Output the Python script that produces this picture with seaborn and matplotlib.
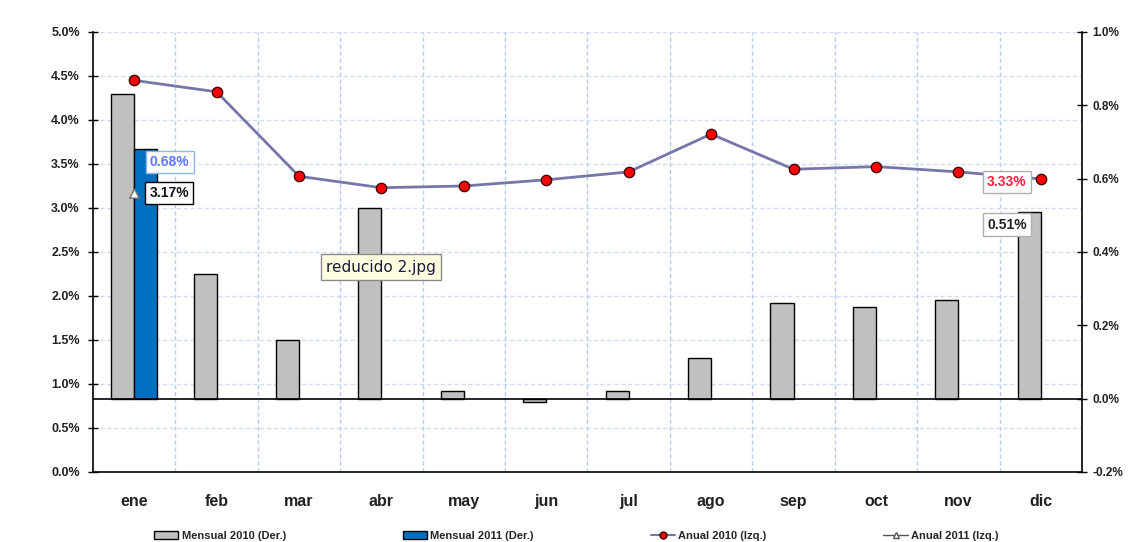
import numpy as np
import pandas as pd
import matplotlib
matplotlib.use("Agg")
import matplotlib.pyplot as plt
import matplotlib.transforms as mtransforms
from matplotlib.patches import Patch
from matplotlib.lines import Line2D
from matplotlib.ticker import FuncFormatter, MultipleLocator, FixedLocator
import seaborn as sns

# data
meses = ['ene', 'feb', 'mar', 'abr', 'may', 'jun', 'jul', 'ago', 'sep', 'oct', 'nov', 'dic']
mensual_2010 = [0.83, 0.34, 0.16, 0.52, 0.02, -0.01, 0.02, 0.11, 0.26, 0.25, 0.27, 0.51]
mensual_2011 = [0.68, np.nan, np.nan, np.nan, np.nan, np.nan, np.nan, np.nan, np.nan, np.nan, np.nan, np.nan]
anual_2010 = [4.45, 4.32, 3.36, 3.23, 3.25, 3.32, 3.41, 3.84, 3.44, 3.47, 3.41, 3.33]
anual_2011 = [3.17]
series_bar = ['Mensual 2010 (Der.)', 'Mensual 2011 (Der.)']
series_line = ['Anual 2010 (Izq.)', 'Anual 2011 (Izq.)']

sns.set_style('white')
plt.rcParams['font.family'] = ['Liberation Sans', 'DejaVu Sans']
plt.rcParams['font.weight'] = 'bold'

df_bar = pd.DataFrame({
    'mes': meses * 2,
    'valor': mensual_2010 + mensual_2011,
    'serie': [series_bar[0]] * 12 + [series_bar[1]] * 12,
})

gris = '#c0c0c0'
azul = '#0070c0'
linea = '#7676a8'
rojo = '#ff0000'
grid_c = '#cfdcf3'

fig = plt.figure(figsize=(11.3, 5.42), dpi=100)
ax_bar = fig.add_axes([0.0823, 0.1292, 0.8752, 0.8118])
ax_line = ax_bar.twinx()

# bars on the right (Der.) axis
sns.barplot(data=df_bar, x='mes', y='valor', hue='serie', order=meses,
            palette=[gris, azul], saturation=1, width=0.56, edgecolor='black',
            linewidth=1, errorbar=None, legend=False, ax=ax_bar, zorder=3)
ax_bar.set_ylim(-0.2, 1.0)
ax_bar.set_xlim(-0.5, 11.5)
ax_bar.axhline(0, color='black', lw=1.2, zorder=4)

# lines on the left (Izq.) axis
x_pos = np.arange(len(meses))
sns.lineplot(x=x_pos, y=anual_2010, color=linea, lw=2, ax=ax_line, zorder=5)
sns.scatterplot(x=x_pos, y=anual_2010, color=rojo, edgecolor='#400000', linewidth=1,
                s=55, ax=ax_line, zorder=6)
sns.scatterplot(x=x_pos[:len(anual_2011)], y=anual_2011, marker='^', color='white',
                edgecolor='#707070', linewidth=1, s=45, ax=ax_line, zorder=6)
ax_line.set_ylim(0, 5.0)
ax_line.set_xlim(-0.5, 11.5)

# move axes sides: left axis = lines, right axis = bars
ax_line.yaxis.tick_left()
ax_bar.yaxis.tick_right()
ax_line.yaxis.set_major_locator(MultipleLocator(0.5))
ax_bar.yaxis.set_major_locator(MultipleLocator(0.2))
ax_line.yaxis.set_major_formatter(FuncFormatter(lambda v, p: f'{v:.1f}%'))
ax_bar.yaxis.set_major_formatter(FuncFormatter(lambda v, p: f'{v:.1f}%'))
ax_line.tick_params(axis='y', direction='inout', length=7, width=1, colors='black',
                    labelcolor='#222222', labelsize=9, pad=6)
ax_bar.tick_params(axis='y', direction='inout', length=7, width=1, colors='black',
                   labelcolor='#222222', labelsize=8.5, pad=4)
ax_bar.set_ylabel('')
ax_bar.set_xlabel('')
ax_line.set_ylabel('')

# x axis: month labels at centers, ticks at boundaries
ax_bar.xaxis.set_major_locator(FixedLocator(x_pos))
ax_bar.set_xticklabels(meses)
ax_bar.xaxis.set_minor_locator(FixedLocator(np.arange(0.5, 11.5, 1)))
ax_bar.tick_params(axis='x', which='major', length=0, labelsize=11.5, pad=16,
                   labelcolor='#222222')
ax_bar.tick_params(axis='x', which='minor', direction='inout', length=7, width=1,
                   colors='black')
ax_line.tick_params(axis='x', which='both', length=0, labelbottom=False)

# grid: vertical dashed at boundaries, horizontal at left ticks (behind bars)
ax_bar.grid(axis='x', which='minor', color='#b8cbee', linestyle=(0, (3, 2)), lw=1, zorder=0)
ax_bar.grid(axis='y', which='major', visible=False)
ax_bar.set_axisbelow(True)
trans = mtransforms.blended_transform_factory(ax_bar.transAxes, ax_line.transData)
for v in np.arange(0.5, 5.01, 0.5):
    ax_bar.add_line(Line2D([0, 1], [v, v], transform=trans, color=grid_c,
                           linestyle=(0, (3, 2)), lw=1, zorder=0))

ax_bar.spines['top'].set_visible(False)
ax_line.spines['top'].set_visible(False)
ax_line.spines['right'].set_visible(False)
ax_line.spines['bottom'].set_visible(False)
ax_bar.spines['left'].set_visible(False)
ax_line.spines['left'].set_color('black')
ax_bar.spines['right'].set_color('black')
ax_bar.spines['bottom'].set_color('black')
ax_line.spines['left'].set_linewidth(1.2)
ax_bar.spines['right'].set_linewidth(1.2)
ax_bar.spines['bottom'].set_linewidth(1.2)

# data labels
box_pad = 'square,pad=0.3'
ax_bar.annotate(f'{mensual_2011[0]:.2f}%', xy=(0.14, mensual_2011[0]), xytext=(4, -13),
                textcoords='offset pixels', ha='left', va='center', fontsize=10,
                color='#5a78ff', zorder=10,
                bbox=dict(boxstyle=box_pad, fc='white', ec='#8fb4e8', lw=1))
ax_line.annotate(f'{anual_2011[0]:.2f}%', xy=(0, anual_2011[0]), xytext=(15, 0),
                 textcoords='offset pixels', ha='left', va='center', fontsize=10,
                 color='#111111', zorder=10,
                 bbox=dict(boxstyle=box_pad, fc='white', ec='black', lw=1))
ax_line.annotate(f'{anual_2010[-1]:.2f}%', xy=(11, anual_2010[-1]), xytext=(-14, -3),
                 textcoords='offset pixels', ha='right', va='center', fontsize=10,
                 color='#ff2040', zorder=10,
                 bbox=dict(boxstyle=box_pad, fc='white', ec='#b0b0b0', lw=1))
ax_line.annotate(f'{mensual_2010[-1]:.2f}%', xy=(11, mensual_2010[-1]),
                 xycoords=ax_bar.transData, xytext=(-14, -13), textcoords='offset pixels',
                 ha='right', va='center', fontsize=10, color='#222222', zorder=10,
                 bbox=dict(boxstyle=box_pad, fc='white', ec='#b0b0b0', lw=1))

# tooltip left in the screenshot
fig.text(0.2885, 0.507, 'reducido 2.jpg', fontsize=11, fontweight='normal',
         family=['DejaVu Sans'], color='#1a1a3a', va='center', ha='left',
         bbox=dict(boxstyle='square,pad=0.35', fc='#ffffe1', ec='#8a8a8a', lw=1))

# legend
handles = [
    Patch(facecolor=gris, edgecolor='black', label=series_bar[0]),
    Patch(facecolor=azul, edgecolor='black', label=series_bar[1]),
    Line2D([0], [0], color=linea, lw=1.5, marker='o', markerfacecolor=rojo,
           markeredgecolor='#400000', markersize=5, label=series_line[0]),
    Line2D([0], [0], color='#555555', lw=1, marker='^', markerfacecolor='white',
           markeredgecolor='#555555', markersize=5, label=series_line[1]),
]
fig.legend(handles=handles, ncol=4, loc='lower center', bbox_to_anchor=(0.51, -0.017),
           frameon=False, fontsize=8, columnspacing=10.5, handlelength=2.2,
           handletextpad=0.3)

fig.savefig('out.png', dpi=100, facecolor='white')
